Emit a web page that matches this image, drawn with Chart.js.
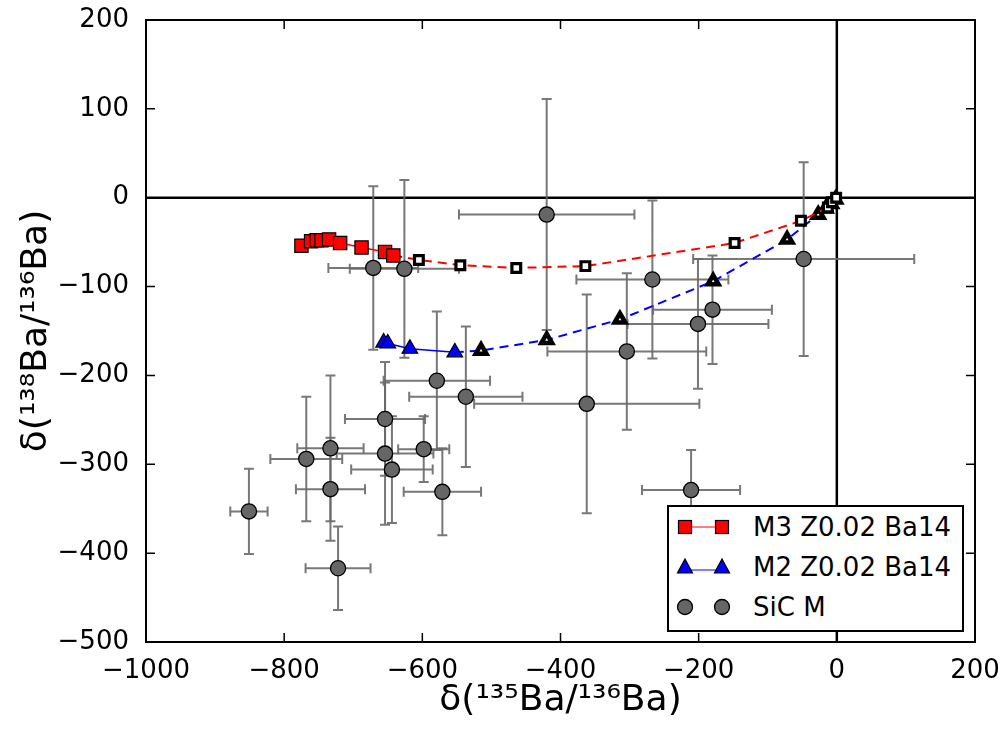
<!DOCTYPE html>
<html lang="en">
<head>
    <meta charset="UTF-8">
    <title>Ba isotope ratios: SiC M grains vs models</title>
    <script src="https://cdn.jsdelivr.net/npm/chart.js"></script>
    <style>
        body { margin: 0; background: #fff; }
        .wrap { position: relative; width: 1001px; height: 731px; }
        #legend {
            position: absolute; left: 667px; top: 505px;
            width: 297px; height: 127px; box-sizing: border-box;
            border: 2px solid #000; background: #fff;
            font-family: 'DejaVu Sans', sans-serif; font-size: 26px; color: #000;
        }
        #legend .row {
            position: absolute; left: 0; height: 40px;
            display: flex; align-items: center; white-space: nowrap;
        }
        #legend svg { width: 70px; height: 30px; }
        #legend span { margin-left: 14px; }
    </style>
</head>
<body>
<div class="wrap">
    <canvas id="baChart" width="1001" height="731"></canvas>
    <div id="legend">
        <div class="row" style="top:0px">
            <svg viewBox="0 0 70 30"><line x1="16" y1="15" x2="53" y2="15" stroke="#f00" stroke-width="1.2"/>
                <rect x="9.5" y="8.5" width="13" height="13" fill="#f00" stroke="#000" stroke-width="1.2"/>
                <rect x="46.5" y="8.5" width="13" height="13" fill="#f00" stroke="#000" stroke-width="1.2"/></svg>
            <span>M3 Z0.02 Ba14</span>
        </div>
        <div class="row" style="top:40px">
            <svg viewBox="0 0 70 30"><line x1="16" y1="18" x2="53" y2="18" stroke="#00f" stroke-width="1.2"/>
                <polygon points="16,7 23.5,21 8.5,21" fill="#00f" stroke="#000" stroke-width="1.2"/>
                <polygon points="53,7 60.5,21 45.5,21" fill="#00f" stroke="#000" stroke-width="1.2"/></svg>
            <span>M2 Z0.02 Ba14</span>
        </div>
        <div class="row" style="top:80px">
            <svg viewBox="0 0 70 30">
                <circle cx="16" cy="15" r="7.5" fill="#666" stroke="#000" stroke-width="1.3"/>
                <circle cx="53" cy="15" r="7.5" fill="#666" stroke="#000" stroke-width="1.3"/></svg>
            <span>SiC M</span>
        </div>
    </div>
</div>

<script>
    // axis ticks
    const xTicks = [-1000, -800, -600, -400, -200, 0, 200];
    const yTicks = [-500, -400, -300, -200, -100, 0, 100, 200];

    // M3 Z0.02 Ba14 model: filled points, then open points (dashed)
    const m3X = [-775, -761, -753, -746, -735, -719, -688, -654, -642];
    const m3Y = [-54, -49, -48, -48, -47, -51, -56, -61, -65];
    const m3OpenX = [-605, -545, -464, -364, -148, -52, -13, -7, -1];
    const m3OpenY = [-70, -76, -79, -77, -51, -26, -11, -5, 0];

    // M2 Z0.02 Ba14 model
    const m2X = [-656, -650, -618, -553];
    const m2Y = [-163, -164, -170, -174];
    const m2OpenX = [-515, -420, -314, -179, -72, -27, -16, -8, -2];
    const m2OpenY = [-172, -160, -137, -94, -47, -19, -12, -7, -2];

    // SiC M grains with 1-sigma errors
    const sicX = [-671, -626, -420, -267, -48, -180, -201, -304, -362, -211, -579,
                  -654, -654, -644, -733, -768, -733, -851, -722, -598, -571, -537];
    const sicY = [-79, -80, -19, -92, -69, -126, -142, -173, -232, -329, -206,
                  -249, -288, -306, -282, -294, -328, -353, -417, -283, -331, -224];
    const sicXErr = [65, 79, 127, 110, 160, 86, 102, 115, 163, 71, 77,
                     58, 70, 59, 48, 52, 50, 27, 47, 37, 56, 82];
    const sicYErr = [92, 100, 130, 89, 109, 61, 73, 88, 123, 45, 78,
                     64, 80, 60, 82, 70, 58, 48, 47, 37, 49, 79];

    function pts(xs, ys) {
        return xs.map(function(v, i) { return {x: v, y: ys[i]}; });
    }
    function minusSign(v) {
        return v < 0 ? '\u2212' + Math.abs(v) : String(v);
    }

    const m3Dashed = [{x: m3X[m3X.length - 1], y: m3Y[m3Y.length - 1]}].concat(pts(m3OpenX, m3OpenY));
    const m2Dashed = [{x: m2X[m2X.length - 1], y: m2Y[m2Y.length - 1]}].concat(pts(m2OpenX, m2OpenY));

    // zero lines, error bars, frame and inward ticks
    const framePlugin = {
        id: 'frame',
        beforeDatasetsDraw(chart) {
            const ctx = chart.ctx, a = chart.chartArea;
            const xs = chart.scales.x, ys = chart.scales.y;
            ctx.save();
            ctx.strokeStyle = '#000';
            ctx.lineWidth = 2.5;
            const x0 = xs.getPixelForValue(0), y0 = ys.getPixelForValue(0);
            ctx.beginPath();
            ctx.moveTo(a.left, y0); ctx.lineTo(a.right, y0);
            ctx.moveTo(x0, a.top); ctx.lineTo(x0, a.bottom);
            ctx.stroke();

            ctx.strokeStyle = 'rgba(105,105,105,0.9)';
            ctx.lineWidth = 2;
            const cap = 5;
            sicX.forEach(function(vx, i) {
                const px = xs.getPixelForValue(vx), py = ys.getPixelForValue(sicY[i]);
                const l = xs.getPixelForValue(vx - sicXErr[i]), r = xs.getPixelForValue(vx + sicXErr[i]);
                const t = ys.getPixelForValue(sicY[i] + sicYErr[i]), b = ys.getPixelForValue(sicY[i] - sicYErr[i]);
                ctx.beginPath();
                ctx.moveTo(l, py); ctx.lineTo(r, py);
                ctx.moveTo(l, py - cap); ctx.lineTo(l, py + cap);
                ctx.moveTo(r, py - cap); ctx.lineTo(r, py + cap);
                ctx.moveTo(px, t); ctx.lineTo(px, b);
                ctx.moveTo(px - cap, t); ctx.lineTo(px + cap, t);
                ctx.moveTo(px - cap, b); ctx.lineTo(px + cap, b);
                ctx.stroke();
            });
            ctx.restore();
        },
        afterDraw(chart) {
            const ctx = chart.ctx, a = chart.chartArea;
            const xs = chart.scales.x, ys = chart.scales.y;
            const tl = 9;
            ctx.save();
            ctx.strokeStyle = '#000';
            ctx.lineWidth = 1.5;
            ctx.beginPath();
            xTicks.forEach(function(v) {
                const p = xs.getPixelForValue(v);
                ctx.moveTo(p, a.bottom); ctx.lineTo(p, a.bottom - tl);
                ctx.moveTo(p, a.top); ctx.lineTo(p, a.top + tl);
            });
            yTicks.forEach(function(v) {
                const p = ys.getPixelForValue(v);
                ctx.moveTo(a.left, p); ctx.lineTo(a.left + tl, p);
                ctx.moveTo(a.right, p); ctx.lineTo(a.right - tl, p);
            });
            ctx.stroke();
            ctx.lineWidth = 2;
            ctx.strokeRect(a.left, a.top, a.right - a.left, a.bottom - a.top);
            ctx.restore();
        }
    };

    Chart.defaults.font.family = "'DejaVu Sans', sans-serif";
    Chart.defaults.color = '#000';

    new Chart(document.getElementById('baChart'), {
        type: 'scatter',
        data: {
            datasets: [{
                label: 'M3 Z0.02 Ba14',
                data: pts(m3X, m3Y),
                showLine: true,
                borderColor: '#ff0000',
                borderWidth: 1.6,
                pointStyle: 'rect',
                pointRadius: 9.4,
                pointBackgroundColor: '#ff0000',
                pointBorderColor: '#000',
                pointBorderWidth: 1.2,
                order: 1
            }, {
                label: 'M3 open',
                data: m3Dashed,
                showLine: true,
                borderColor: '#ff0000',
                borderWidth: 2,
                borderDash: [9, 6],
                pointStyle: 'rect',
                pointRadius: function(c) { return c.dataIndex === 0 ? 0 : 6.2; },
                pointBackgroundColor: '#fff',
                pointBorderColor: '#000',
                pointBorderWidth: 3.2,
                order: 2
            }, {
                label: 'M2 Z0.02 Ba14',
                data: pts(m2X, m2Y),
                showLine: true,
                borderColor: '#0000ff',
                borderWidth: 1.6,
                pointStyle: 'triangle',
                pointRadius: 9,
                pointBackgroundColor: '#0000ff',
                pointBorderColor: '#000',
                pointBorderWidth: 1.2,
                order: 3
            }, {
                label: 'M2 open',
                data: m2Dashed,
                showLine: true,
                borderColor: '#0000ff',
                borderWidth: 2,
                borderDash: [9, 6],
                pointStyle: 'triangle',
                pointRadius: function(c) { return c.dataIndex === 0 ? 0 : 6.2; },
                pointBackgroundColor: '#fff',
                pointBorderColor: '#000',
                pointBorderWidth: 4.5,
                order: 4
            }, {
                label: 'SiC M',
                data: pts(sicX, sicY),
                showLine: false,
                pointStyle: 'circle',
                pointRadius: 7.6,
                pointBackgroundColor: '#666666',
                pointBorderColor: '#000',
                pointBorderWidth: 1.3,
                order: 10
            }]
        },
        options: {
            responsive: false,
            animation: false,
            events: [],
            layout: { padding: { left: 0, top: 20, right: 26, bottom: 0 } },
            plugins: { legend: { display: false }, tooltip: { enabled: false } },
            scales: {
                x: {
                    type: 'linear', min: -1000, max: 200,
                    afterBuildTicks: function(s) { s.ticks = xTicks.map(function(v) { return {value: v}; }); },
                    afterFit: function(s) { s.height = 89; s.paddingLeft = 0; s.paddingRight = 0; },
                    grid: { display: false },
                    border: { display: false },
                    ticks: { font: { size: 26 }, padding: 6, maxRotation: 0, callback: minusSign },
                    title: { display: true, text: 'δ(¹³⁵Ba/¹³⁶Ba)', font: { size: 36 }, padding: { top: 0, bottom: 9 } }
                },
                y: {
                    type: 'linear', min: -500, max: 200,
                    afterBuildTicks: function(s) { s.ticks = yTicks.map(function(v) { return {value: v}; }); },
                    afterFit: function(s) { s.width = 146; s.paddingTop = 0; s.paddingBottom = 0; },
                    grid: { display: false },
                    border: { display: false },
                    ticks: { font: { size: 26 }, padding: 9, callback: minusSign },
                    title: { display: true, text: 'δ(¹³⁸Ba/¹³⁶Ba)', font: { size: 36 }, padding: { top: 15, bottom: 0 } }
                }
            }
        },
        plugins: [framePlugin]
    });
</script>
</body>
</html>
